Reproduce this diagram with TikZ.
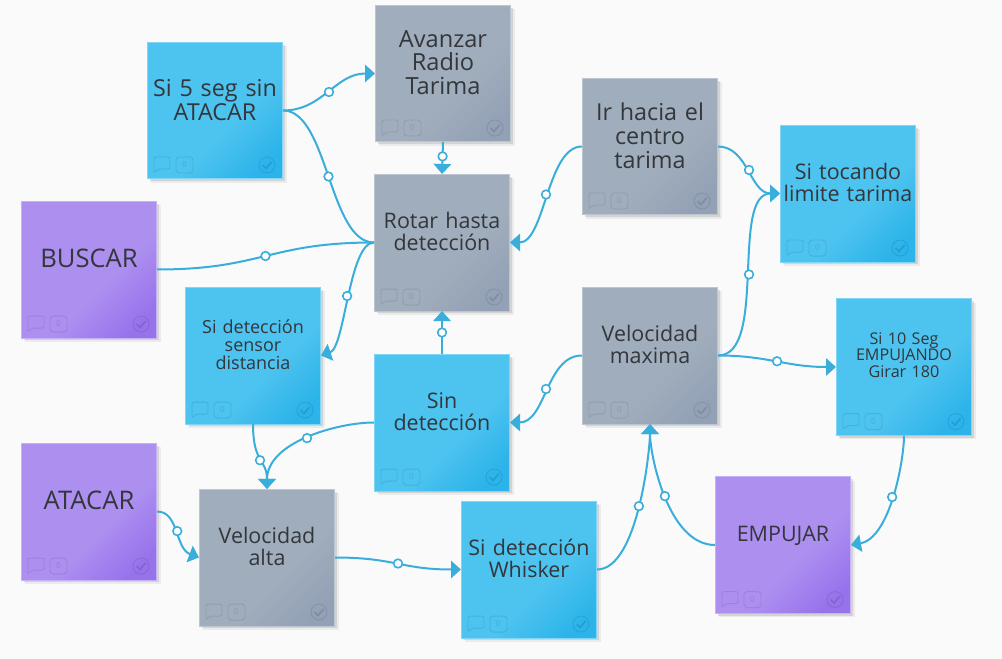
\documentclass[tikz,border=0pt]{standalone}
\usepackage{fontspec}
\setmainfont[Kerning=Off,WordSpace=0.8]{Open Sans}
\usetikzlibrary{arrows.meta,shadows}
\definecolor{bgc}{HTML}{FAFAFA}
\definecolor{wire}{HTML}{3AAEDB}
\definecolor{ink}{HTML}{33363B}
\definecolor{bluea}{HTML}{4DC3EF}
\definecolor{blueb}{HTML}{2BB3EA}
\definecolor{graya}{HTML}{A0ADBC}
\definecolor{grayb}{HTML}{93A1B6}
\definecolor{purpa}{HTML}{AD8FF0}
\definecolor{purpb}{HTML}{9672EB}
\pgfdeclarehorizontalshading{shblue}{100bp}{color(0bp)=(bluea);color(58bp)=(bluea);color(78bp)=(blueb);color(100bp)=(blueb)}
\pgfdeclarehorizontalshading{shgray}{100bp}{color(0bp)=(graya);color(58bp)=(graya);color(78bp)=(grayb);color(100bp)=(grayb)}
\pgfdeclarehorizontalshading{shpurp}{100bp}{color(0bp)=(purpa);color(58bp)=(purpa);color(78bp)=(purpb);color(100bp)=(purpb)}
\newcommand{\notetext}[2]{\fontsize{#1}{#2}\selectfont}
\tikzset{
  x=0.75pt,y=-0.75pt,
  note/.style={rectangle,minimum width=101.6pt,minimum height=102.4pt,inner sep=0pt,
    align=center,text=ink,text width=100pt,shading angle=-45,
    drop shadow={shadow xshift=3pt,shadow yshift=-3pt,fill=black,opacity=.06},
    drop shadow={shadow xshift=1.8pt,shadow yshift=-1.8pt,fill=black,opacity=.1}},
  bluenote/.style={note,shading=shblue,draw=bluea!70!white,line width=.4pt},
  graynote/.style={note,shading=shgray,draw=graya!70!white,line width=.4pt},
  purpnote/.style={note,shading=shpurp,draw=purpa!70!white,line width=.4pt},
  lineone/.style={text depth=16.5pt},
  linetwo/.style={text depth=33.5pt},
  linethree/.style={text depth=52pt},
  linesmall/.style={text depth=43pt},
  huge/.style={font=\notetext{19.2pt}{18pt}},
  big/.style={font=\notetext{17.5pt}{18pt}},
  bigt/.style={font=\notetext{17.7pt}{17.6pt}},
  mid/.style={font=\notetext{16.1pt}{16.5pt}},
  sml/.style={font=\notetext{13.5pt}{13.5pt}},
  tiny/.style={font=\notetext{12.1pt}{12.4pt}},
  wirepath/.style={draw=wire,line width=1.5pt},
  arr/.style={wirepath,-{Triangle[length=7.5pt,width=13pt]}},
  dot/.style={circle,draw=wire,fill=white,line width=1.2pt,minimum size=6.5pt,inner sep=0pt},
  faint/.style={draw=black,draw opacity=.09,line width=.7pt},
  notemarks/.pic={
    \draw[faint,rounded corners=1.6pt] (7,-22) -- (7,-6) -- (11,-10) -- (23,-10) -- (23,-22) -- cycle;
    \draw[faint,rounded corners=2.5pt] (29,-22) rectangle (46,-6);
    \node[text=black,text opacity=.12,font=\fontsize{6pt}{6pt}\selectfont,inner sep=0pt] (zero) at (37.5,-14) {0};
    \draw[faint] (120,-14) circle (8);
    \draw[draw=black,draw opacity=.12,line width=1.2pt] (115.5,-14) -- (119,-10.5) -- (124.5,-17);
  },
}
\begin{document}
\begin{tikzpicture}
\path[use as bounding box,fill=bgc] (0,0) rectangle (1002,659);

\node[bluenote,big,linetwo] (si5) at (215,110.5) {Si 5 seg sin\\ATACAR};
\node[graynote,bigt,linethree] (ava) at (443,73.5) {Avanzar\\Radio\\Tarima};
\node[graynote,mid,linetwo] (rot) at (442,242.5) {Rotar hasta\\detección};
\node[graynote,big,linethree] (irh) at (650,146.5) {Ir hacia el\\centro\\tarima};
\node[bluenote,mid,linetwo] (toc) at (848,193.5) {Si tocando\\limite tarima};
\node[purpnote,huge,lineone] (bus) at (89,269.5) {BUSCAR};
\node[bluenote,sml,linesmall] (sen) at (253,355.5) {Si detección\\sensor\\distancia};
\node[bluenote,mid,linetwo] (sin) at (442,422.5) {Sin\\detección};
\node[graynote,mid,linetwo] (vma) at (650,355.5) {Velocidad\\maxima};
\node[bluenote,tiny,linesmall] (s10) at (904,367) {Si 10 Seg\\EMPUJANDO\\Girar 180};
\node[purpnote,huge,lineone] (ata) at (89,511.5) {ATACAR};
\node[graynote,mid,linetwo] (val) at (267,557.5) {Velocidad\\alta};
\node[bluenote,mid,linetwo] (whi) at (529,569.5) {Si detección\\Whisker};
\node[purpnote,mid,lineone] (emp) at (783,545) {EMPUJAR};

\foreach \n in {si5,ava,rot,irh,toc,bus,sen,sin,vma,s10,ata,val,whi,emp}
  \pic at (\n.south west) {notemarks};

\draw[arr] (si5.east) .. controls +(40,0) and +(-40,0) .. node[dot,pos=.5] (d1) {} (ava.west);
\draw[wirepath] (si5.east) .. controls +(45,0) and +(-45,0) .. node[dot,pos=.5] (d2) {} (rot.west);
\draw[wirepath] (bus.east) .. controls +(105,0) and +(-105,0) .. node[dot,pos=.5] (d3) {} (rot.west);
\draw[arr] (rot.west) .. controls +(-25,0) and +(24,-8) .. node[dot,pos=.5] (d4) {} (sen.east);
\draw[arr] (ava.south) -- node[dot,pos=.45] (d5) {} (rot.north);
\draw[arr] (sin.north) -- node[dot,pos=.5] (d6) {} (rot.south);
\draw[arr] (irh.west) .. controls +(-35,0) and +(35,0) .. node[dot,pos=.5] (d7) {} (rot.east);
\draw[arr] (irh.east) .. controls +(30,0) and +(-30,0) .. node[dot,pos=.5] (d8) {} (toc.west);
\draw[arr] (vma.east) .. controls +(50,0) and +(-50,0) .. node[dot,pos=.5] (d9) {} (toc.west);
\draw[arr] (vma.east) .. controls +(50,0) and +(-50,0) .. node[dot,pos=.5] (d10) {} (s10.west);
\draw[arr] (vma.west) .. controls +(-36,0) and +(36,0) .. node[dot,pos=.5] (d11) {} (sin.east);
\draw[arr] (sen.south) .. controls +(0,40) and +(0,-30) .. node[dot,pos=.5] (d12) {} (val.north);
\draw[arr] (sin.west) .. controls +(-36,0) and +(0,-47) .. node[dot,pos=.5] (d13) {} (val.north);
\draw[arr] (ata.east) .. controls +(22,0) and +(-24,-9) .. node[dot,pos=.5] (d14) {} (val.west);
\draw[arr] (val.east) .. controls +(60,0) and +(-60,0) .. node[dot,pos=.5] (d15) {} (whi.west);
\draw[arr] (whi.east) .. controls +(41,0) and +(0,25) .. node[dot,pos=.5] (d16) {} (vma.south);
\draw[arr] (emp.west) .. controls +(-47,0) and +(0,31) .. node[dot,pos=.5] (d17) {} (vma.south);
\draw[arr] (s10.south) .. controls +(0,25) and +(39,-7) .. node[dot,pos=.5] (d18) {} (emp.east);
\end{tikzpicture}
\end{document}
